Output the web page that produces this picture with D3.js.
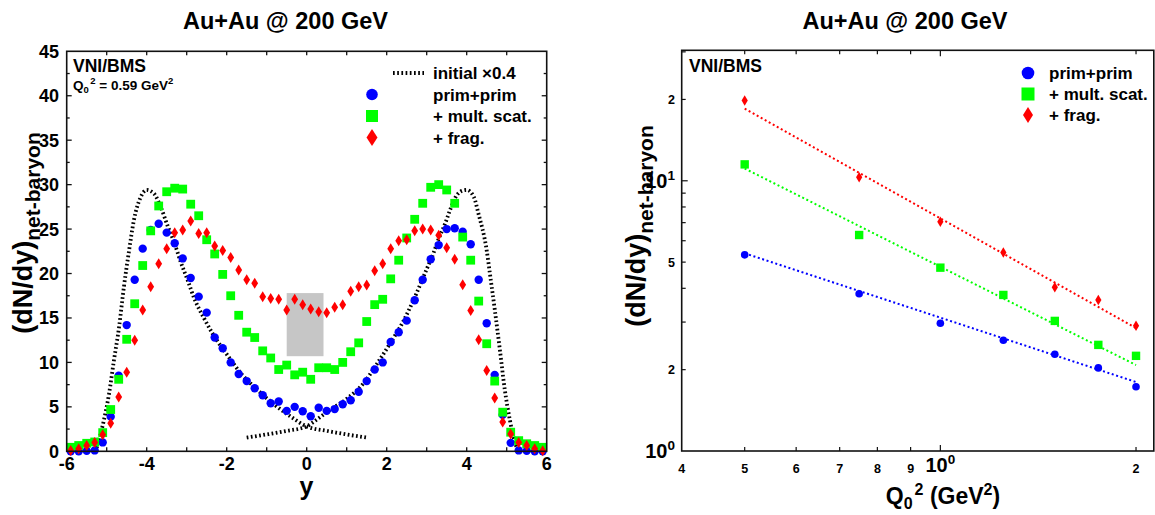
<!DOCTYPE html>
<html><head><meta charset="utf-8">
<script src="https://cdn.jsdelivr.net/npm/d3@7"></script>
<style>
body{margin:0;background:#fff}
svg{display:block}
text{font-family:"Liberation Sans",Arial,Helvetica,sans-serif;font-weight:bold;fill:#000}
</style>
</head><body><svg id="c" width="1155" height="515"></svg>
<script>
// ---------------- data: left panel ----------------
const rapidity = [-5.9,-5.7,-5.5,-5.3,-5.1,-4.9,-4.7,-4.5,-4.3,-4.1,-3.9,-3.7,-3.5,-3.3,-3.1,-2.9,-2.7,-2.5,-2.3,-2.1,-1.9,-1.7,-1.5,-1.3,-1.1,-0.9,-0.7,-0.5,-0.3,-0.1,
                  0.1,0.3,0.5,0.7,0.9,1.1,1.3,1.5,1.7,1.9,2.1,2.3,2.5,2.7,2.9,3.1,3.3,3.5,3.7,3.9,4.1,4.3,4.5,4.7,4.9,5.1,5.3,5.5,5.7,5.9];
const primPrim = [0.0,0.0,0.05,0.1,1.0,3.9,8.5,14.2,19.3,22.8,24.9,25.6,24.6,23.4,21.7,19.5,17.4,15.6,12.8,11.6,10.0,8.7,7.9,7.1,6.3,5.4,5.6,4.55,5.0,4.5,
                  3.95,4.9,4.55,4.75,5.3,5.75,6.7,7.9,9.2,10.0,12.3,13.4,14.7,17.0,19.3,21.6,23.2,25.0,25.1,24.7,23.3,19.3,14.4,8.6,4.1,0.95,0.1,0.05,0.0,0.0];
const multScat = [0.45,0.65,0.9,1.05,2.1,4.7,8.1,12.6,16.6,20.9,24.8,27.6,29.2,29.6,29.5,27.8,26.5,23.8,22.2,19.9,17.5,15.3,13.4,12.8,11.3,10.5,9.2,9.7,8.6,8.9,
                  8.1,9.4,9.4,9.2,10.0,11.2,12.2,14.6,16.5,17.1,19.4,21.5,24.0,26.1,27.9,29.7,30.0,29.4,27.9,24.1,21.5,16.9,12.1,7.9,4.4,2.15,1.2,0.85,0.65,0.45];
const frag = [0.1,0.3,0.65,1.0,1.85,3.15,6.1,8.9,12.5,15.9,18.5,21.1,22.8,24.6,24.9,25.9,24.5,24.6,23.1,22.6,21.8,20.4,19.3,18.9,17.4,17.2,17.1,15.9,17.1,16.5,
              16.0,15.7,15.6,16.2,16.5,18.0,18.5,18.7,20.3,21.1,22.8,23.7,23.8,24.8,25.0,24.9,24.3,22.9,21.6,18.75,15.85,12.55,9.1,6.0,3.3,1.95,1.0,0.65,0.3,0.05];
// initial distributions (x0.4), projectile and target
const initProjY = [-5.25,-5.15,-5.07,-4.94,-4.82,-4.69,-4.57,-4.44,-4.32,-4.15,-4.0,-3.82,-3.65,-3.48,-3.32,-3.15,-2.98,-2.82,-2.57,-2.32,-1.98,-1.65,-1.23,-0.82,-0.4,0.0,0.5,1.0,1.5];
const initProjV = [0.4,2.0,3.5,6.5,10.2,14.0,18.5,22.6,26.0,28.6,29.4,29.0,27.5,25.4,23.6,21.3,19.3,17.3,15.0,13.0,10.8,8.8,6.9,5.3,3.9,2.8,2.3,1.9,1.55];
const initTargY = [-1.5,-1.0,-0.5,0.0,0.2,0.58,1.0,1.42,1.75,2.08,2.4,2.67,3.0,3.17,3.29,3.46,3.58,3.75,3.88,4.0,4.18,4.29,4.5,4.58,4.7,4.83,4.95,5.08,5.15,5.25];
const initTargV = [1.55,1.9,2.3,2.8,3.4,4.65,5.9,7.65,9.8,12.1,14.5,17.0,20.5,22.3,23.8,25.6,27.1,28.8,29.3,29.4,28.6,26.8,22.6,20.0,16.0,11.4,7.0,3.5,2.0,0.4];
const bandRapidity = [-0.5, 0.42];
const bandDndy = [10.7, 17.8];
const xTicksLeft = [-6,-4,-2,0,2,4,6];
const yTicksLeft = [0,5,10,15,20,25,30,35,40,45];

// ---------------- data: right panel ----------------
const q0sq = [0.5,0.75,1.0,1.25,1.5,1.75,2.0];
const q2PrimPrim = [5.32,3.82,2.97,2.57,2.28,2.03,1.73];
const q2MultScat = [11.5,6.3,4.77,3.78,3.03,2.47,2.25];
const q2Frag = [19.8,10.3,7.05,5.43,4.04,3.62,2.91];
const fitQ0sq = [0.5, 2.0];
const fitPrimPrim = [5.39, 1.80];
const fitMultScat = [11.1, 2.08];
const fitFrag = [18.5, 2.85];
const q2TickVals = [0.4,0.5,0.6,0.7,0.8,0.9,1.0,2.0];
const q2TickLabels = [["4",""],["5",""],["6",""],["7",""],["8",""],["9",""],["10","0"],["2",""]];
const dndyTickVals = [1,2,5,10,20];
const dndyTickLabels = [["10","0"],["2",""],["5",""],["10","1"],["2",""]];

const BLUE="#0000ff", GREEN="#00ff00", RED="#ff0000";

const svg = d3.select("#c");

// ---------- helpers ----------
function marker(g, type, x, y, s, color){
  if(type==="circle") g.append("circle").attr("cx",x).attr("cy",y).attr("r",s.r).attr("fill",color);
  else if(type==="square") g.append("rect").attr("x",x-s.w/2).attr("y",y-s.w/2).attr("width",s.w).attr("height",s.w).attr("fill",color);
  else g.append("path").attr("d",`M${x},${y-s.h/2}L${x+s.w/2},${y}L${x},${y+s.h/2}L${x-s.w/2},${y}Z`).attr("fill",color);
}
function ylabel(x, y, size, subSize){
  const t = svg.append("text").attr("transform",`translate(${x},${y}) rotate(-90)`).attr("text-anchor","middle");
  t.append("tspan").attr("font-size",size).text("(dN/dy)");
  t.append("tspan").attr("font-size",subSize).attr("dy",size*0.3).text("net-baryon");
}

// ================= LEFT PANEL =================
const xL = d3.scaleLinear().domain([-6,6]).range([66.7,546.7]);
const yL = d3.scaleLinear().domain([0,45]).range([451.3,51.3]);
const gL = svg.append("g");

// grey band
gL.append("rect").attr("x",xL(bandRapidity[0])).attr("y",yL(bandDndy[1]))
  .attr("width",xL(bandRapidity[1])-xL(bandRapidity[0])).attr("height",yL(bandDndy[0])-yL(bandDndy[1]))
  .attr("fill","#c6c6c6");

// initial curves
const lineL = d3.line().x(d=>xL(d[0])).y(d=>yL(d[1])).curve(d3.curveMonotoneX);
[[initProjY,initProjV],[initTargY,initTargV]].forEach(([xs,vs])=>{
  gL.append("path").attr("d",lineL(xs.map((v,i)=>[v,vs[i]]))).attr("fill","none")
    .attr("stroke","#000").attr("stroke-width",3.8).attr("stroke-dasharray","1.7,2.5");
});

// points
const sL = {circle:{r:4.2}, square:{w:8.8}, diamond:{w:6.8,h:11}};
rapidity.forEach((r,i)=>marker(gL,"circle",xL(r),yL(primPrim[i]),sL.circle,BLUE));
rapidity.forEach((r,i)=>marker(gL,"square",xL(r),yL(multScat[i]),sL.square,GREEN));
rapidity.forEach((r,i)=>marker(gL,"diamond",xL(r),yL(frag[i]),sL.diamond,RED));

// frame & ticks
const fL = gL.append("g").attr("stroke","#111").attr("stroke-width",1.3);
d3.range(-5,6,1).forEach(v=>{
  const len = 4;
  fL.append("line").attr("x1",xL(v)).attr("x2",xL(v)).attr("y1",yL(0)).attr("y2",yL(0)-len);
  fL.append("line").attr("x1",xL(v)).attr("x2",xL(v)).attr("y1",yL(45)).attr("y2",yL(45)+len);
});
d3.range(2.5,45,2.5).forEach(v=>{
  const len = (v%5===0)?5:3;
  fL.append("line").attr("y1",yL(v)).attr("y2",yL(v)).attr("x1",xL(-6)).attr("x2",xL(-6)+len);
  fL.append("line").attr("y1",yL(v)).attr("y2",yL(v)).attr("x1",xL(6)).attr("x2",xL(6)-len);
});
gL.append("rect").attr("x",xL(-6)).attr("y",yL(45)).attr("width",xL(6)-xL(-6)).attr("height",yL(0)-yL(45))
  .attr("fill","none").attr("stroke","#111").attr("stroke-width",1.6);

xTicksLeft.forEach(v=>gL.append("text").attr("x",xL(v)).attr("y",469.5).attr("text-anchor","middle").attr("font-size",18).text(v));
yTicksLeft.forEach(v=>gL.append("text").attr("x",59).attr("y",yL(v)+6.5).attr("text-anchor","end").attr("font-size",18).text(v));

svg.append("text").attr("x",306.5).attr("y",495).attr("text-anchor","middle").attr("font-size",25).text("y");
ylabel(32, 233, 27, 21);
svg.append("text").attr("x",285.5).attr("y",29).attr("text-anchor","middle").attr("font-size",23.5).text("Au+Au @ 200 GeV");
svg.append("text").attr("x",73).attr("y",72).attr("font-size",17.5).text("VNI/BMS");
{
  const t = svg.append("text").attr("x",73).attr("y",90).attr("font-size",13.5);
  t.append("tspan").text("Q");
  t.append("tspan").attr("font-size",9.5).attr("dy",3).text("0");
  t.append("tspan").attr("font-size",9.5).attr("dy",-9.5).attr("dx",1.5).text("2");
  t.append("tspan").attr("dy",6.5).text(" = 0.59 GeV");
  t.append("tspan").attr("font-size",9.5).attr("dy",-6.5).text("2");
}
// legend left
{
  const rows=[73,94.5,116,137.5], mx=372, tx=433;
  svg.append("line").attr("x1",393).attr("x2",424).attr("y1",rows[0]).attr("y2",rows[0])
    .attr("stroke","#000").attr("stroke-width",3.8).attr("stroke-dasharray","1.7,2.5");
  const lg = svg.append("g");
  marker(lg,"circle",mx,rows[1],{r:5.8},BLUE);
  marker(lg,"square",mx,rows[2],{w:12},GREEN);
  marker(lg,"diamond",mx,rows[3],{w:11,h:17},RED);
  ["initial \u00d70.4","prim+prim","+ mult. scat.","+ frag."].forEach((s,i)=>
    svg.append("text").attr("x",tx).attr("y",rows[i]+6).attr("font-size",17).text(s));
}

// ================= RIGHT PANEL =================
const xR = d3.scaleLog().domain([0.4,2.13]).range([681.7,1153.8]);
const yR = d3.scaleLog().domain([1,30.4]).range([451,50.3]);
const gR = svg.append("g");
const lineR = d3.line().x(d=>xR(d[0])).y(d=>yR(d[1]));
[[fitPrimPrim,BLUE],[fitMultScat,GREEN],[fitFrag,RED]].forEach(([vals,c])=>{
  gR.append("path").attr("d",lineR(fitQ0sq.map((q,i)=>[q,vals[i]]))).attr("fill","none")
    .attr("stroke",c).attr("stroke-width",2).attr("stroke-dasharray","2,2.6");
});
const sR = {circle:{r:3.8}, square:{w:8.4}, diamond:{w:6.2,h:10.5}};
q0sq.forEach((q,i)=>marker(gR,"circle",xR(q),yR(q2PrimPrim[i]),sR.circle,BLUE));
q0sq.forEach((q,i)=>marker(gR,"square",xR(q),yR(q2MultScat[i]),sR.square,GREEN));
q0sq.forEach((q,i)=>marker(gR,"diamond",xR(q),yR(q2Frag[i]),sR.diamond,RED));

const fR = gR.append("g").attr("stroke","#111").attr("stroke-width",1.2);
[0.5,0.6,0.7,0.8,0.9,1.0,2.0].forEach(v=>{
  const len = (v===1.0)?6:4;
  fR.append("line").attr("x1",xR(v)).attr("x2",xR(v)).attr("y1",451).attr("y2",451-len);
  fR.append("line").attr("x1",xR(v)).attr("x2",xR(v)).attr("y1",50.3).attr("y2",50.3+len);
});
[2,3,4,5,6,7,8,9,10,20,30].forEach(v=>{
  const len = (v===10)?6:4;
  fR.append("line").attr("y1",yR(v)).attr("y2",yR(v)).attr("x1",681.7).attr("x2",681.7+len);
});
gR.append("rect").attr("x",681.7).attr("y",50.3).attr("width",1153.8-681.7).attr("height",451-50.3)
  .attr("fill","none").attr("stroke","#111").attr("stroke-width",1.6);

q2TickVals.forEach((v,i)=>{
  const [b,s]=q2TickLabels[i];
  const big = s!=="";
  const t = svg.append("text").attr("x",xR(v)).attr("y",big?472:473).attr("text-anchor","middle").attr("font-size",big?20:12.5);
  t.append("tspan").text(b);
  if(big) t.append("tspan").attr("font-size",13.5).attr("dy",-8).text(s);
});
dndyTickVals.forEach((v,i)=>{
  const [b,s]=dndyTickLabels[i];
  const big = s!=="";
  const t = svg.append("text").attr("x",675).attr("y",yR(v)+(big?7:4.5)).attr("text-anchor","end").attr("font-size",big?20:12.5);
  t.append("tspan").text(b);
  if(big) t.append("tspan").attr("font-size",13.5).attr("dy",-8).text(s);
});

{
  const t = svg.append("text").attr("x",943).attr("y",504).attr("text-anchor","middle").attr("font-size",23);
  t.append("tspan").text("Q");
  t.append("tspan").attr("font-size",16).attr("dy",5).text("0");
  t.append("tspan").attr("font-size",16).attr("dy",-14).attr("dx",2).text("2");
  t.append("tspan").attr("dy",9).text(" (GeV");
  t.append("tspan").attr("font-size",16).attr("dy",-9).text("2");
  t.append("tspan").attr("dy",9).text(")");
}
ylabel(645, 226, 27, 21);
svg.append("text").attr("x",905).attr("y",29).attr("text-anchor","middle").attr("font-size",23.5).text("Au+Au @ 200 GeV");
svg.append("text").attr("x",689).attr("y",72).attr("font-size",17.5).text("VNI/BMS");
{
  const rows=[73,94,115], mx=1028, tx=1049;
  const lg = svg.append("g");
  marker(lg,"circle",mx,rows[0],{r:6.3},BLUE);
  marker(lg,"square",mx,rows[1],{w:13},GREEN);
  marker(lg,"diamond",mx,rows[2],{w:10,h:16},RED);
  ["prim+prim","+ mult. scat.","+ frag."].forEach((s,i)=>
    svg.append("text").attr("x",tx).attr("y",rows[i]+6).attr("font-size",17).text(s));
}
</script>
</body></html>
